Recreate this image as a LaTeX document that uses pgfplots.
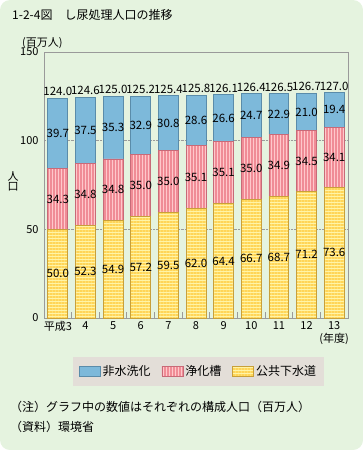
\documentclass[border=0pt]{standalone}
\usepackage{pgfplots}
\pgfplotsset{compat=1.18}
\usepackage{pgfplotstable}
\usetikzlibrary{patterns.meta}
\usepackage{fontspec}
\setmainfont{Noto Sans CJK JP}
\definecolor{bg}{HTML}{E5F3DF}
\definecolor{legbg}{HTML}{E3DED8}
\definecolor{bluef}{HTML}{7DB9DA}
\definecolor{blued}{HTML}{5A8CAA}
\definecolor{pinkf}{HTML}{FFC8CB}
\definecolor{pinks}{HTML}{F08C96}
\definecolor{pinkd}{HTML}{C86A78}
\definecolor{yelf}{HTML}{FFF4A6}
\definecolor{yels}{HTML}{FFD557}
\definecolor{yeld}{HTML}{C8A03A}
\definecolor{axgray}{HTML}{9A9A9A}

\pgfplotstableread{
x yel pink blue total
0 50.0 34.3 39.7 124.0
1 52.3 34.8 37.5 124.6
2 54.9 34.8 35.3 125.0
3 57.2 35.0 32.9 125.2
4 59.5 35.0 30.8 125.4
5 62.0 35.1 28.6 125.8
6 64.4 35.1 26.6 126.1
7 66.7 35.0 24.7 126.4
8 68.7 34.9 22.9 126.5
9 71.2 34.5 21.0 126.7
10 73.6 34.1 19.4 127.0
}\datatable
\pgfplotstablecreatecol[create col/expr={\thisrow{yel}/2}]{ym}\datatable
\pgfplotstablecreatecol[create col/expr={\thisrow{yel}+\thisrow{pink}/2}]{pm}\datatable
\pgfplotstablecreatecol[create col/expr={\thisrow{yel}+\thisrow{pink}+\thisrow{blue}/2}]{bm}\datatable

\newcommand{\fs}[1]{\fontsize{#1}{#1}\selectfont}

\begin{document}
\begin{tikzpicture}
\path[use as bounding box] (0bp,0bp) rectangle (363bp,-450bp);
\fill[bg, rounded corners=10bp] (0bp,0bp) rectangle (363bp,-450bp);
\node[anchor=west, font=\fs{12bp}, inner sep=0] at (12bp,-15bp) {1-2-4図　し尿処理人口の推移};
\node[anchor=west, font=\fs{11bp}, inner sep=0] at (22bp,-43bp) {(百万人)};
\node[align=center, font=\fs{11bp}, inner sep=0] at (13bp,-181bp) {人\\[-1bp]口};
\pgfplotsset{common/.style={
  at={(44bp,-318bp)}, anchor=south west,
  scale only axis, width=304bp, height=266bp,
  xmin=-0.5, xmax=10.5, ymin=0, ymax=150}}
\begin{axis}[common,
  ybar stacked, bar width=0.72,
  xtick={0,...,10},
  xticklabels={平成3,4,5,6,7,8,9,10,11,12,13},
  minor xtick={0.5,1.5,...,9.5},
  ytick={0,50,100,150},
  major tick length=0pt, minor tick length=6bp,
  xtick pos=bottom, ytick pos=left,
  tick style={axgray, line width=1bp},
  axis line style={axgray, line width=0.8bp},
  ymajorgrids, grid style={axgray, densely dotted, line width=0.8bp},
  /pgf/number format/assume math mode=true,
  tick label style={font=\fs{11bp}},
  yticklabel style={xshift=-2bp},
  xticklabel style={yshift=0bp},
  legend columns=3,
  reverse legend,
  legend cell align=left,
  legend image code/.code={\draw[#1] (0bp,-5bp) rectangle (21bp,5bp);},
  legend style={at={(0.508,-0.201)}, anchor=center, draw=none, fill=legbg,
    font=\fs{12bp}, inner xsep=6bp, inner ysep=7bp,
    /tikz/every even column/.append style={column sep=9bp}},
]
\addplot[fill=yelf, draw=yeld, line width=0.8bp,
  postaction={pattern={Lines[angle=0,distance=3bp,line width=1.1bp]}, pattern color=yels}]
  table[x=x, y=yel] {\datatable};
\addlegendentry{公共下水道}
\addplot[fill=pinkf, draw=pinkd, line width=0.8bp,
  postaction={pattern={Lines[angle=90,distance=3bp,line width=1.1bp]}, pattern color=pinks}]
  table[x=x, y=pink] {\datatable};
\addlegendentry{浄化槽}
\addplot[fill=bluef, draw=blued, line width=0.8bp]
  table[x=x, y=blue] {\datatable};
\addlegendentry{非水洗化}
\end{axis}
\begin{axis}[common, hide axis,
  nodes near coords={\pgfmathprintnumber[fixed,fixed zerofill,precision=1,assume math mode=true]{\pgfplotspointmeta}},
  point meta=explicit,
  every node near coord/.append style={font=\fs{11.5bp}, text=black, inner sep=1bp, anchor=center},
]
\addplot[draw=none, mark=none] table[x=x, y=ym, meta=yel] {\datatable};
\addplot[draw=none, mark=none] table[x=x, y=pm, meta=pink] {\datatable};
\addplot[draw=none, mark=none] table[x=x, y=bm, meta=blue] {\datatable};
\addplot[draw=none, mark=none, every node near coord/.append style={anchor=south, yshift=1bp}]
  table[x=x, y=total, meta=total] {\datatable};
\end{axis}
\node[font=\fs{11bp}, inner sep=0] at (334bp,-339bp) {(年度)};
\node[anchor=west, font=\fs{12bp}, inner sep=0] at (10bp,-407bp) {（注）グラフ中の数値はそれぞれの構成人口（百万人）};
\node[anchor=west, font=\fs{12bp}, inner sep=0] at (10bp,-427bp) {（資料）環境省};
\end{tikzpicture}
\end{document}
